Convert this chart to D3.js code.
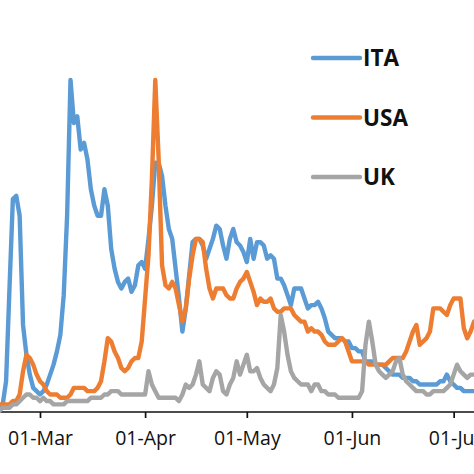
<!DOCTYPE html>
<html>
<head>
<meta charset="utf-8">
<script src="https://cdn.jsdelivr.net/npm/d3@7"></script>
<style>
  html, body { margin: 0; padding: 0; background: #fff; }
  svg { display: block; }
</style>
</head>
<body>
<svg id="chart"></svg>
<script>
// daily series, 18-Feb-2020 .. 07-Jul-2020
const startDate = new Date(Date.UTC(2020, 1, 18));
const endDate = new Date(Date.UTC(2020, 6, 7));
const seriesNames = ['ITA', 'USA', 'UK'];
const seriesColors = ['#5B9BD5', '#ED7D31', '#A5A5A5'];
const tickDates = ['2020-03-01', '2020-04-01', '2020-05-01', '2020-06-01', '2020-07-01'];

const ita = [1, 2, 9, 37, 64, 65, 59, 26, 17, 11, 7, 6, 5, 6, 8, 11, 14, 18, 23, 35,
  59, 100, 87, 89, 79, 81, 76, 67, 62, 59, 59, 67, 62, 49, 43, 39, 37, 39, 40, 36,
  38, 44, 45, 43, 52, 62, 75, 75, 71, 62, 55, 52, 43, 34, 24, 31, 41, 51, 52, 52,
  50, 46, 49, 52, 56, 55, 50, 46, 52, 55, 51, 50, 48, 45, 52, 46, 51, 51, 50, 46,
  47, 46, 40, 40, 38, 35, 32, 37, 37, 37, 34, 31, 32, 32, 33, 31, 28, 24, 23, 22,
  22, 22, 21, 21, 19, 19, 18, 18, 15, 15, 15, 14, 14, 14, 13, 12, 11, 11, 11, 10,
  10, 10, 9, 9, 8, 8, 8, 8, 8, 8, 9, 9, 11, 9, 8, 7, 7, 6, 6, 6, 6];

const usa = [2, 2, 2, 2, 3, 3, 5, 12, 17, 16, 14, 11, 9, 8, 6, 5, 5, 5, 4, 4,
  4, 5, 7, 7, 7, 7, 6, 6, 6, 7, 9, 15, 22, 21, 18, 16, 13, 12, 13, 15,
  16, 16, 21, 34, 47, 70, 100, 76, 44, 38, 37, 39, 37, 32, 27, 31, 40, 47, 52, 52,
  51, 43, 37, 34, 37, 37, 37, 35, 34, 34, 37, 39, 40, 42, 39, 36, 32, 34, 33, 33,
  34, 31, 30, 30, 31, 31, 31, 29, 28, 27, 27, 24, 25, 24, 24, 23, 21, 20, 20, 20,
  21, 22, 21, 18, 15, 15, 15, 15, 15, 14, 14, 14, 14, 14, 14, 15, 16, 16, 16, 16,
  18, 21, 24, 26, 20, 21, 22, 24, 31, 31, 31, 30, 29, 32, 34, 34, 34, 25, 22, 24, 27];

const uk = [0, 1, 1, 1, 2, 2, 3, 4, 5, 5, 4, 4, 3, 4, 3, 3, 2, 2, 2, 2,
  3, 3, 3, 3, 3, 3, 3, 4, 4, 4, 4, 5, 5, 6, 6, 6, 5, 5, 5, 5,
  5, 5, 5, 5, 12, 8, 6, 4, 4, 4, 4, 4, 4, 3, 5, 8, 7, 8, 11, 15,
  8, 7, 6, 10, 12, 11, 6, 5, 8, 10, 15, 11, 14, 17, 12, 12, 13, 10, 8, 7,
  6, 8, 13, 29, 24, 17, 12, 10, 9, 8, 8, 8, 6, 8, 8, 6, 6, 5, 5, 5,
  4, 4, 4, 4, 4, 4, 4, 6, 20, 27, 21, 14, 12, 11, 10, 11, 12, 15, 16, 11,
  9, 8, 7, 6, 6, 6, 5, 5, 6, 6, 6, 6, 7, 8, 11, 14, 12, 11, 10, 11, 11];

const width = 474;
const height = 474;
const marginLeft = -0.7;
const marginRight = 0;
const axisY = 412;

const dates = d3.utcDay.range(startDate, d3.utcDay.offset(endDate, 1));
const series = [ita, usa, uk];

const x = d3.scaleUtc([startDate, endDate], [marginLeft, width - marginRight]);
const y = d3.scaleLinear([0, 100], [411, 80]);

const svg = d3.select('#chart')
  .attr('width', width)
  .attr('height', height)
  .attr('viewBox', [0, 0, width, height]);

// X axis
const xAxis = d3.axisBottom(x)
  .tickValues(tickDates.map(d => new Date(d + 'T00:00:00Z')))
  .tickFormat(d3.utcFormat('%d-%b'))
  .tickSizeInner(6)
  .tickSizeOuter(0);

svg.append('g')
  .attr('transform', `translate(0,${axisY})`)
  .call(xAxis)
  .call(g => g.select('.domain')
    .attr('d', `M0,0H${width}`)
    .attr('stroke', '#111')
    .attr('stroke-width', 1.7))
  .call(g => g.selectAll('.tick line')
    .attr('stroke', '#111')
    .attr('stroke-width', 1.7))
  .call(g => g.selectAll('.tick text')
    .attr('y', 19)
    .attr('fill', '#111')
    .style('font-family', '"Open Sans", sans-serif')
    .style('font-size', '19.5px'));

// lines (Excel order: later series on top)
const line = d3.line()
  .x((d, i) => x(dates[i]))
  .y(d => y(d));

svg.append('g')
  .attr('fill', 'none')
  .attr('stroke-width', 4.4)
  .attr('stroke-linejoin', 'round')
  .attr('stroke-linecap', 'round')
  .selectAll('path')
  .data(series)
  .join('path')
    .attr('stroke', (d, i) => seriesColors[i])
    .attr('d', line);

// legend
const legend = svg.append('g')
  .selectAll('g')
  .data(seriesNames)
  .join('g')
    .attr('transform', (d, i) => `translate(313,${58 + i * 59.5})`);

legend.append('line')
  .attr('x1', 0)
  .attr('x2', 47)
  .attr('stroke', (d, i) => seriesColors[i])
  .attr('stroke-width', 4.4)
  .attr('stroke-linecap', 'round');

legend.append('text')
  .attr('x', 50)
  .attr('y', 8)
  .attr('fill', '#111')
  .style('font-family', '"Open Sans", sans-serif')
  .style('font-weight', 'bold')
  .style('font-size', '22.5px')
  .text(d => d);
</script>
</body>
</html>
